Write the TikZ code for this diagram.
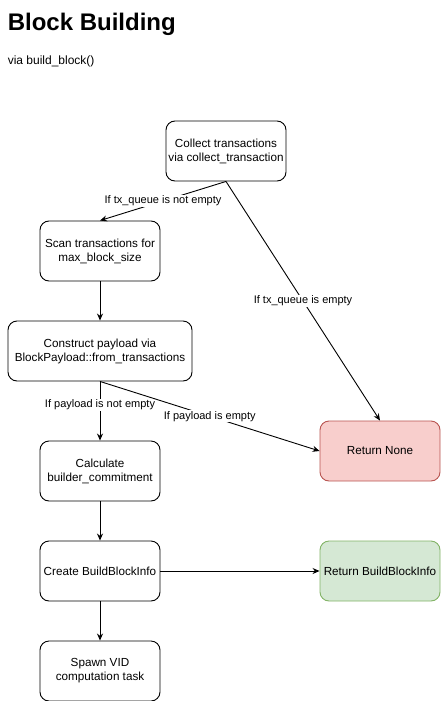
\documentclass[tikz,border=0pt]{standalone}
\usepackage{fontspec}
\setmainfont{Liberation Sans}
\usepackage{tikz}
\usepackage{xcolor}
\usetikzlibrary{arrows.meta}

\definecolor{nonefill}{HTML}{F8CECC}
\definecolor{nonedraw}{HTML}{B85450}
\definecolor{infofill}{HTML}{D5E8D4}
\definecolor{infodraw}{HTML}{82B366}

\begin{document}
\begin{tikzpicture}[x=1pt, y=-1pt, node distance={100pt}, line width=0.9pt, >={Stealth[length=7pt,width=6pt]},
  main/.style = {draw, rounded corners=9pt, minimum width=120pt, minimum height=60pt, inner xsep=0.5pt, align=center, font=\fontsize{11.7}{14}\selectfont},
  lbl/.style = {fill=white, inner sep=1pt, font=\fontsize{11}{13}\selectfont}]
\useasboundingbox (0,0) rectangle (441,701);
\node[anchor=base west, font=\fontsize{24}{28}\selectfont\bfseries] (title) at (4,31) {Block Building};
\node[anchor=base west, font=\fontsize{12}{14}\selectfont] (sub) at (4,64) {via build\_block()};
\node[main] (collect) at (226,151) {Collect transactions\\via collect\_transaction};
\node[main] (scan) at (100,251) {Scan transactions for\\max\_block\_size};
\node[main, minimum width=184pt] (construct) [below of=scan] {Construct payload via\\BlockPayload::from\_transactions};
\node[main] (calc) [below of=construct, node distance=120pt] {Calculate\\builder\_commitment};
\node[main] (create) [below of=calc] {Create BuildBlockInfo};
\node[main] (spawn) [below of=create] {Spawn VID\\computation task};
\node[main, fill=nonefill, draw=nonedraw] (none) at (380,451) {Return None};
\node[main, fill=infofill, draw=infodraw] (info) [right of=create, node distance=280pt] {Return BuildBlockInfo};
\draw[->] (collect.south) -- node[lbl] {If tx\_queue is not empty} (scan.north);
\draw[->] (collect.south) -- node[lbl] {If tx\_queue is empty} (none.north);
\draw[->] (scan) -- (construct);
\draw[->] (construct.south) -- node[lbl, pos=0.4] {If payload is not empty} (calc.north);
\draw[->] (construct.south) -- node[lbl] {If payload is empty} (none.west);
\draw[->] (calc) -- (create);
\draw[->] (create) -- (info);
\draw[->] (create) -- (spawn);
\end{tikzpicture}
\end{document}
